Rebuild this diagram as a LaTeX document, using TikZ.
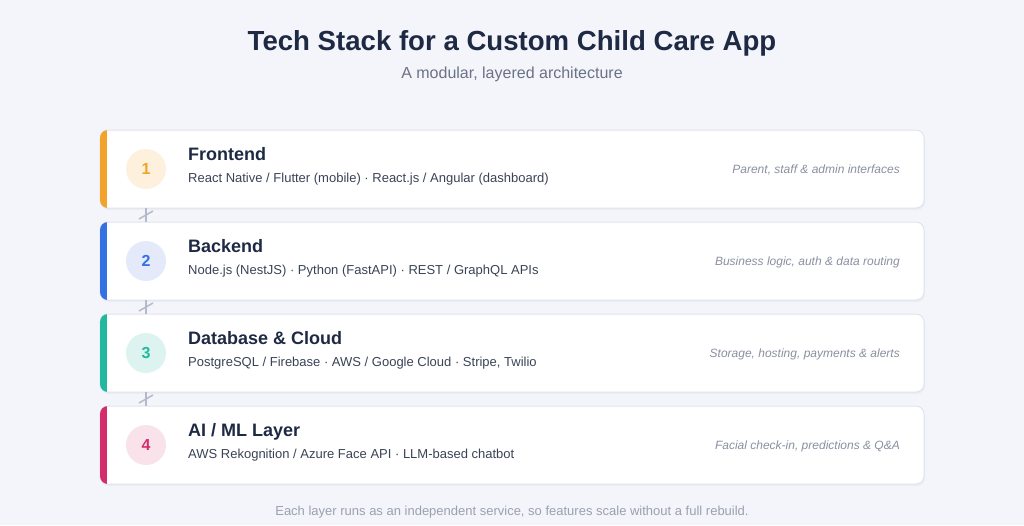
\documentclass[tikz,border=0pt]{standalone}
\usepackage{fontspec}
\setmainfont{Liberation Sans}
\usetikzlibrary{calc}
\begin{document}
\begin{tikzpicture}[x=1pt,y=-1pt,
  card/.style={draw=cardline, fill=white, rounded corners=8pt, line width=1pt},
  num/.style={circle, minimum size=40pt, inner sep=0pt, font=\fontsize{16}{16}\selectfont\bfseries},
  ttl/.style={anchor=base west, inner sep=0pt, text=ink, font=\fontsize{18}{18}\selectfont\bfseries},
  sub/.style={anchor=base west, inner sep=0pt, text=subink, font=\fontsize{13}{13}\selectfont},
  note/.style={anchor=base east, inner sep=0pt, text=noteink, font=\fontsize{12}{12}\selectfont\itshape},
  conn/.style={draw=connc, line width=1.5pt}
]
\definecolor{bg}{HTML}{F4F5FB}
\definecolor{cardline}{HTML}{E1E4EE}
\definecolor{ink}{HTML}{1E2A44}
\definecolor{subink}{HTML}{3A4356}
\definecolor{noteink}{HTML}{8A90A0}
\definecolor{grayt}{HTML}{6B7285}
\definecolor{foot}{HTML}{9AA0AE}
\definecolor{connc}{HTML}{B4BACB}
\definecolor{c1}{HTML}{F2A32A}
\definecolor{c2}{HTML}{3471E3}
\definecolor{c3}{HTML}{20B89F}
\definecolor{c4}{HTML}{D42D6C}
\definecolor{f1}{HTML}{FDF1DE}
\definecolor{f2}{HTML}{E4EAFA}
\definecolor{f3}{HTML}{DDF3EF}
\definecolor{f4}{HTML}{F9E2EA}

\fill[bg] (0,0) rectangle (1024,525);
\useasboundingbox (0,0) rectangle (1024,525);

\node[anchor=base, inner sep=0pt, text=ink, font=\fontsize{27.6}{27.6}\selectfont\bfseries] (title) at (512,50) {Tech Stack for a Custom Child Care App};
\node[anchor=base, inner sep=0pt, text=grayt, font=\fontsize{16}{16}\selectfont] (subtitle) at (512,78) {A modular, layered architecture};

\foreach \i/\y/\c/\f/\t/\s/\n in {
 1/130/c1/f1/{Frontend}/{React Native / Flutter (mobile) · React.js / Angular (dashboard)}/{Parent, staff \& admin interfaces},
 2/222/c2/f2/{Backend}/{Node.js (NestJS) · Python (FastAPI) · REST / GraphQL APIs}/{Business logic, auth \& data routing},
 3/314/c3/f3/{Database \& Cloud}/{PostgreSQL / Firebase · AWS / Google Cloud · Stripe, Twilio}/{Storage, hosting, payments \& alerts},
 4/406/c4/f4/{AI / ML Layer}/{AWS Rekognition / Azure Face API · LLM-based chatbot}/{Facial check-in, predictions \& Q\&A}} {
  \fill[black, opacity=0.03, rounded corners=8pt] (101,\y+2) rectangle (925,\y+80);
  \path[card] (100,\y) rectangle (924,\y+78);
  \begin{scope}
    \clip[rounded corners=8pt] (100,\y) rectangle (924,\y+78);
    \fill[\c] (100,\y) rectangle (107,\y+78);
  \end{scope}
  \coordinate (top\i) at (146,\y);
  \coordinate (bot\i) at (146,\y+78);
  \node[num, fill=\f, text=\c] (n\i) at (146,\y+39) {\i};
  \node[ttl] (t\i) at (188,\y+30) {\t};
  \node[sub] (s\i) at (188,\y+52) {\s};
  \node[note] (r\i) at (900,\y+43) {\n};
}

\foreach \a/\b in {1/2,2/3,3/4} {
  \draw[conn] (bot\a) -- (top\b);
  \draw[conn] ($(bot\a)!0.5!(top\b)+(-7,4)$) -- ++(14,-8);
}

\node[anchor=base, inner sep=0pt, text=foot, font=\fontsize{13}{13}\selectfont] (footer) at (512,515) {Each layer runs as an independent service, so features scale without a full rebuild.};
\end{tikzpicture}
\end{document}
